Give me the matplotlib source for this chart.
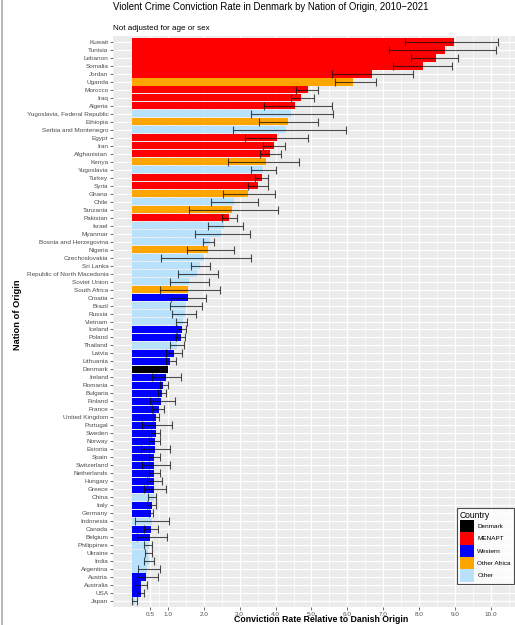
import matplotlib
matplotlib.use("Agg")
import matplotlib.pyplot as plt
from matplotlib.patches import Patch
from matplotlib.lines import Line2D
import numpy as np

plt.rcParams['font.family'] = ['Liberation Sans', 'DejaVu Sans']

# Data (top to bottom as shown)
countries = [
    "Kuwait", "Tunisia", "Lebanon", "Somalia", "Jordan", "Uganda", "Morocco",
    "Iraq", "Algeria", "Yugoslavia, Federal Republic", "Ethiopia",
    "Serbia and Montenegro", "Egypt", "Iran", "Afghanistan", "Kenya",
    "Yugoslavia", "Turkey", "Syria", "Ghana", "Chile", "Tanzania", "Pakistan",
    "Israel", "Myanmar", "Bosnia and Herzegovina", "Nigeria", "Czechoslovakia",
    "Sri Lanka", "Republic of North Macedonia", "Soviet Union", "South Africa",
    "Croatia", "Brazil", "Russia", "Vietnam", "Iceland", "Poland", "Thailand",
    "Latvia", "Lithuania", "Denmark", "Ireland", "Romania", "Bulgaria",
    "Finland", "France", "United Kingdom", "Portugal", "Sweden", "Norway",
    "Estonia", "Spain", "Switzerland", "Netherlands", "Hungary", "Greece",
    "China", "Italy", "Germany", "Indonesia", "Canada", "Belgium",
    "Philippines", "Ukraine", "India", "Argentina", "Austria", "Australia",
    "USA", "Japan",
]
groups = [
    "MENAPT", "MENAPT", "MENAPT", "MENAPT", "MENAPT", "Other Africa", "MENAPT",
    "MENAPT", "MENAPT", "Other", "Other Africa",
    "Other", "MENAPT", "MENAPT", "MENAPT", "Other Africa",
    "Other", "MENAPT", "MENAPT", "Other Africa", "Other", "Other Africa", "MENAPT",
    "Other", "Other", "Other", "Other Africa", "Other",
    "Other", "Other", "Other", "Other Africa",
    "Western", "Other", "Other", "Other", "Western", "Western", "Other",
    "Western", "Western", "Denmark", "Western", "Western", "Western",
    "Western", "Western", "Western", "Western", "Western", "Western",
    "Western", "Western", "Western", "Western", "Western", "Western",
    "Other", "Western", "Western", "Other", "Western", "Western",
    "Other", "Other", "Other", "Other", "Western", "Western",
    "Western", "Other",
]
rate = [
    8.98, 8.72, 8.46, 8.12, 6.68, 6.15, 4.89,
    4.70, 4.54, 4.43, 4.36,
    4.28, 4.04, 3.97, 3.84, 3.72,
    3.66, 3.62, 3.51, 3.22, 2.84, 2.78, 2.70,
    2.56, 2.48, 2.17, 2.13, 2.01,
    1.89, 1.81, 1.59, 1.55,
    1.55, 1.50, 1.48, 1.42, 1.38, 1.36, 1.25,
    1.16, 1.06, 1.00, 0.95, 0.87, 0.84,
    0.82, 0.74, 0.68, 0.67, 0.66, 0.64,
    0.63, 0.60, 0.60, 0.60, 0.60, 0.60,
    0.60, 0.55, 0.52, 0.55, 0.53, 0.50,
    0.46, 0.45, 0.46, 0.42, 0.39, 0.25,
    0.24, 0.08,
]
ci_low = [
    7.60, 7.17, 7.76, 7.28, 5.57, 5.65, 4.58,
    4.42, 3.67, 3.32, 3.55,
    2.80, 3.16, 3.65, 3.57, 2.68,
    3.31, 3.44, 3.24, 2.53, 2.19, 1.58, 2.52,
    2.13, 1.76, 1.99, 1.52, 0.81,
    1.64, 1.28, 1.07, 0.78,
    1.09, 1.07, 1.12, 1.22, 1.25, 1.23, 1.06,
    0.94, 0.95, np.nan, 0.55, 0.78, 0.73,
    0.49, 0.57, 0.59, 0.27, 0.53, 0.48,
    0.26, 0.46, 0.27, 0.46, 0.41, 0.34,
    0.44, 0.41, 0.48, 0.07, 0.34, 0.13,
    0.34, 0.36, 0.33, 0.16, 0.13, 0.07,
    0.13, 0.01,
]
ci_high = [
    10.20, 10.13, 9.09, 8.92, 7.83, 6.79, 5.17,
    5.08, 5.56, 5.59, 5.17,
    5.95, 4.91, 4.27, 4.15, 4.64,
    4.02, 3.78, 3.78, 3.98, 3.52, 4.08, 2.92,
    3.10, 3.29, 2.29, 2.85, 3.31,
    2.16, 2.39, 2.14, 2.46,
    2.07, 1.96, 1.79, 1.54, 1.51, 1.48, 1.45,
    1.40, 1.22, np.nan, 1.37, 0.99, 0.96,
    1.21, 0.90, 0.76, 1.11, 0.79, 0.77,
    1.07, 0.79, 1.06, 0.79, 0.83, 0.95,
    0.66, 0.68, 0.59, 1.04, 0.72, 0.97,
    0.57, 0.56, 0.61, 0.77, 0.73, 0.42,
    0.34, 0.15,
]
group_names = ["Denmark", "MENAPT", "Western", "Other Africa", "Other"]
group_colors = {"Denmark": "#000000", "MENAPT": "#FF0000", "Western": "#0000FF",
                "Other Africa": "#FFA500", "Other": "#B8E2FC"}
xticks = [0.5, 1.0, 2.0, 3.0, 4.0, 5.0, 6.0, 7.0, 8.0, 9.0, 10.0]

n = len(countries)
ypos = np.arange(n, 0, -1)

fig = plt.figure(figsize=(5.15, 6.25), dpi=100)
ax = fig.add_axes([113 / 515, 1 - 607 / 625, 1 - 113 / 515 + 0.002, (607 - 36) / 625])
ax.set_facecolor("#EBEBEB")
for s in ax.spines.values():
    s.set_visible(False)

# grid
ax.set_xticks(xticks)
ax.set_xticklabels(["%.1f" % t for t in xticks])
ax.set_xticks([0.0, 0.75] + [i + 0.5 for i in range(1, 11)], minor=True)
ax.set_yticks(ypos)
ax.set_yticklabels(countries)
ax.grid(True, which="major", color="white", lw=0.9)
ax.grid(True, which="minor", axis="x", color="white", lw=0.45)
ax.set_axisbelow(True)

cols = [group_colors[g] for g in groups]
ax.barh(ypos, rate, height=0.9, color=cols, zorder=2)

lo = np.array(ci_low)
hi = np.array(ci_high)
mid = (lo + hi) / 2
ok = ~np.isnan(lo)
ax.errorbar(mid[ok], ypos[ok], xerr=[(mid - lo)[ok], (hi - mid)[ok]], fmt="none",
            ecolor="#111111", alpha=0.75, elinewidth=0.8, capsize=2.8, capthick=0.8,
            zorder=3)

ax.set_xlim(-0.53, 10.7)
ax.set_ylim(0.25, n + 0.75)
ax.tick_params(axis="both", which="major", labelsize=4.6, labelcolor="#4D4D4D",
               color="#333333", length=2.2, width=0.5, pad=1.2)
ax.tick_params(axis="both", which="minor", length=0)

fig.text(113 / 515, 1 - 7 / 625, "Violent Crime Conviction Rate in Denmark by Nation of Origin, 2010\u22122021",
         fontsize=6.9, va="center", ha="left")
fig.text(113 / 515, 1 - 29 / 625, "Not adjusted for age or sex", fontsize=5.8,
         va="center", ha="left")
fig.text(18 / 515, 1 - 315 / 625, "Nation of Origin", rotation=90, fontsize=6.7,
         fontweight="bold", va="center", ha="center")
fig.text(321 / 515, 1 - 620 / 625, "Conviction Rate Relative to Danish Origin",
         fontsize=6.3, fontweight="bold", va="center", ha="center")

# thin left border
fig.add_artist(Line2D([0.003, 0.003], [0, 1], color="#AAAAAA", lw=1.2))

handles = [Patch(facecolor=group_colors[g], edgecolor="none", label=g) for g in group_names]
leg = fig.legend(handles=handles, title="Country", loc="upper left",
                 bbox_to_anchor=(455 / 515, 1 - 506 / 625), fontsize=4.6,
                 title_fontsize=6.2, handlelength=2.2, handleheight=2.6,
                 labelspacing=0.0, handletextpad=0.55, borderpad=0.45,
                 borderaxespad=0.3, frameon=True, fancybox=False, alignment="left")
leg.get_frame().set_edgecolor("#222222")
leg.get_frame().set_linewidth(0.8)

fig.savefig("out.png", dpi=100)
